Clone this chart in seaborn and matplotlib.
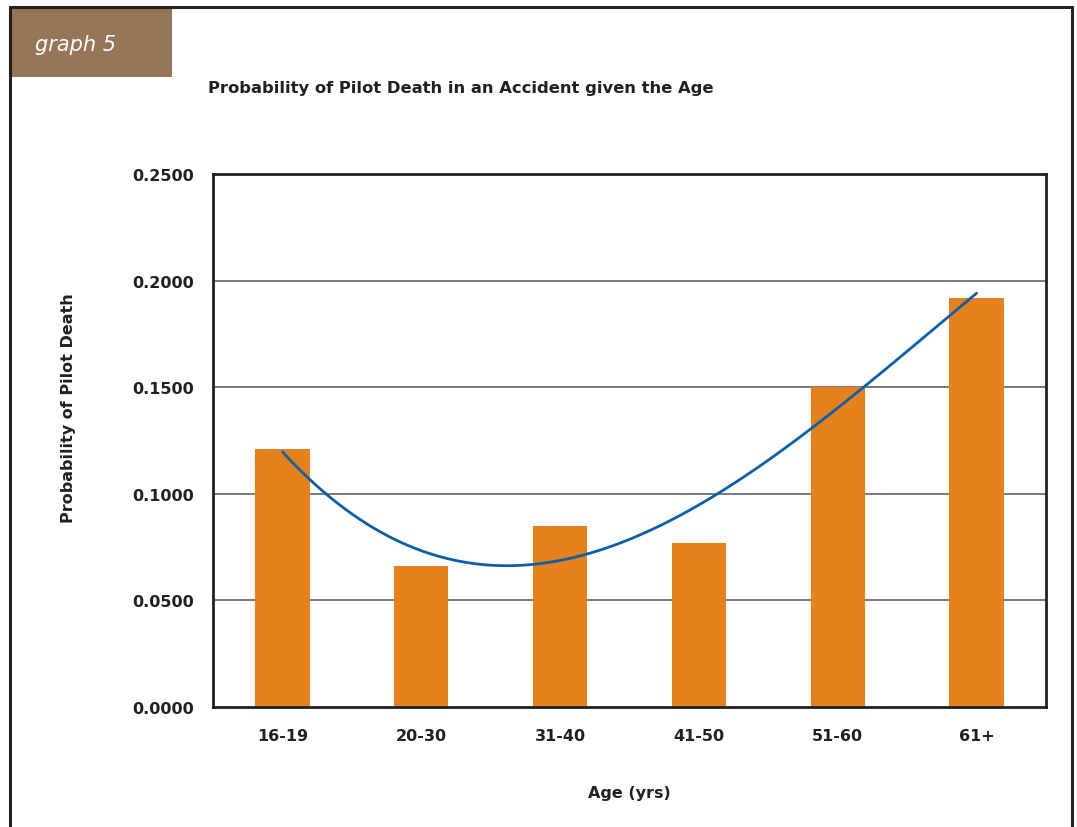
import numpy as np
import pandas as pd
import matplotlib
matplotlib.use("Agg")
import matplotlib.pyplot as plt
from matplotlib.lines import Line2D
from matplotlib.patches import Rectangle
import seaborn as sns

categories = ["16-19", "20-30", "31-40", "41-50", "51-60", "61+"]
probabilities = [0.121, 0.066, 0.085, 0.077, 0.150, 0.192]
y_ticks = [0.0, 0.05, 0.10, 0.15, 0.20, 0.25]

sns.set_style("white")
plt.rcParams['font.family'] = ['DejaVu Sans']

df = pd.DataFrame({"age": categories, "prob": probabilities,
                   "pos": np.arange(len(categories))})

fig = plt.figure(figsize=(10.77, 8.28), dpi=100)
ax = fig.add_axes([0.1978, 0.1449, 0.9712 - 0.1978, 0.7886 - 0.1449])

# gridlines
for t in y_ticks[1:-1]:
    ax.axhline(t, color="#6e6e6e", lw=1.3, zorder=0)

sns.barplot(data=df, x="age", y="prob", color="#E6821E", width=0.39,
            saturation=1, ax=ax, zorder=2, linewidth=0, edgecolor="none")
sns.regplot(data=df, x="pos", y="prob", order=3, ci=None, scatter=False,
            truncate=True, ax=ax,
            line_kws=dict(color="#0b5fa8", lw=2.0, zorder=3))

ax.set_xlim(-0.5, 5.5)
ax.set_ylim(0, 0.25)
ax.set_yticks(y_ticks)
ax.set_yticklabels([f"{t:.4f}" for t in y_ticks], fontsize=11.5,
                   fontweight="bold", color="#231f20")
ax.set_xticks(range(len(categories)))
ax.set_xticklabels(categories, fontsize=11.5, fontweight="bold", color="#231f20")
ax.tick_params(axis="y", length=0, pad=14)
ax.tick_params(axis="x", length=0, pad=15)
ax.set_xlabel("Age (yrs)", fontsize=11.5, fontweight="bold", color="#231f20",
              labelpad=30)
ax.set_ylabel("Probability of Pilot Death", fontsize=11.5, fontweight="bold",
              color="#231f20")
ax.yaxis.set_label_coords(-0.165, 0.563)
for s in ax.spines.values():
    s.set_visible(True)
    s.set_color("#231f20")
    s.set_linewidth(2.0)

# outer frame
W, H = 1077, 828
fig.add_artist(Line2D([10 / W, 10 / W], [0, 1 - 8 / H], color="#231f20", lw=2.2,
                      transform=fig.transFigure))
fig.add_artist(Line2D([10 / W, 1072 / W], [1 - 8 / H, 1 - 8 / H], color="#231f20",
                      lw=2.2, transform=fig.transFigure))
fig.add_artist(Line2D([1072 / W, 1072 / W], [0, 1 - 8 / H], color="#231f20",
                      lw=2.2, transform=fig.transFigure))
fig.add_artist(Rectangle((10 / W, 1 - 78 / H), 162 / W, 70 / H,
                         transform=fig.transFigure, facecolor="#967656",
                         edgecolor="none"))
fig.text(35 / W, 1 - 45 / H, "graph 5", color="white", fontsize=15,
         fontstyle="italic", va="center", ha="left")
fig.text(208 / W, 1 - 88 / H,
         "Probability of Pilot Death in an Accident given the Age",
         fontsize=11.8, fontweight="bold", color="#231f20", va="center", ha="left")

fig.savefig("out.png", dpi=100)
